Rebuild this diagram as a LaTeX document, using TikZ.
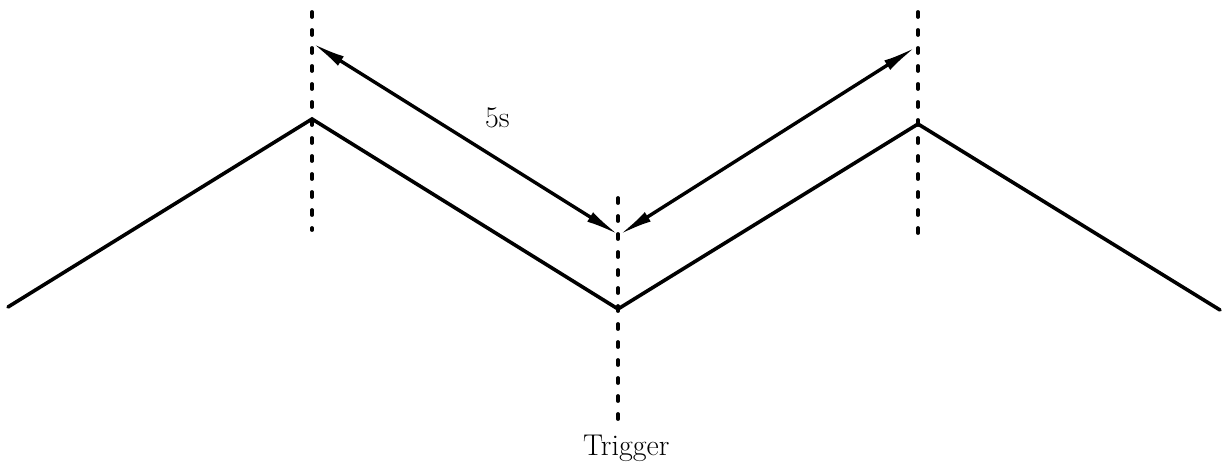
\documentclass[tikz,border=0pt]{standalone}
\usepackage{fontspec}
\usetikzlibrary{arrows.meta}
\begin{document}
\begin{tikzpicture}[x=1pt,y=-1pt,
  wave/.style={line width=3.6pt, line join=miter, line cap=round},
  marker/.style={line width=3.8pt, line cap=round, dash pattern=on 5pt off 13pt},
  tip/.style={Latex[length=34pt,width=11pt]},
  dimline/.style={line width=3.4pt, {Latex[length=34pt,width=11pt]}-{Latex[length=34pt,width=11pt]}},
  lbl/.style={font=\fontsize{30}{36}\selectfont, inner sep=0pt, anchor=base west}]
\useasboundingbox (0,0) rectangle (1228,468);
% zigzag
\coordinate (s) at (8,307);
\coordinate (p1) at (312,119);
\coordinate (v) at (618,309);
\coordinate (p2) at (918,124);
\coordinate (e) at (1220,310);
\draw[wave] (s) -- (p1) -- (v) -- (p2) -- (e);
% dashed markers
\coordinate (m1t) at (312,12);
\coordinate (m1b) at (312,230);
\coordinate (m2t) at (618,198);
\coordinate (m2b) at (618,420);
\coordinate (m3t) at (918,12);
\coordinate (m3b) at (918,234);
\draw[marker] (m1t) -- (m1b);
\draw[marker] (m2t) -- (m2b);
\draw[marker] (m3t) -- (m3b);
% dimension arrows
\coordinate (a1) at (312,43);
\coordinate (a2) at (619,235);
\coordinate (a3) at (916,47);
\draw[dimline] (a1) -- (a2);
\draw[dimline] (a2) -- (a3);
% labels
\node[lbl] (five) at (485,128) {5s};
\node[lbl] (trig) at (583,455) {Trigger};
\end{tikzpicture}
\end{document}
